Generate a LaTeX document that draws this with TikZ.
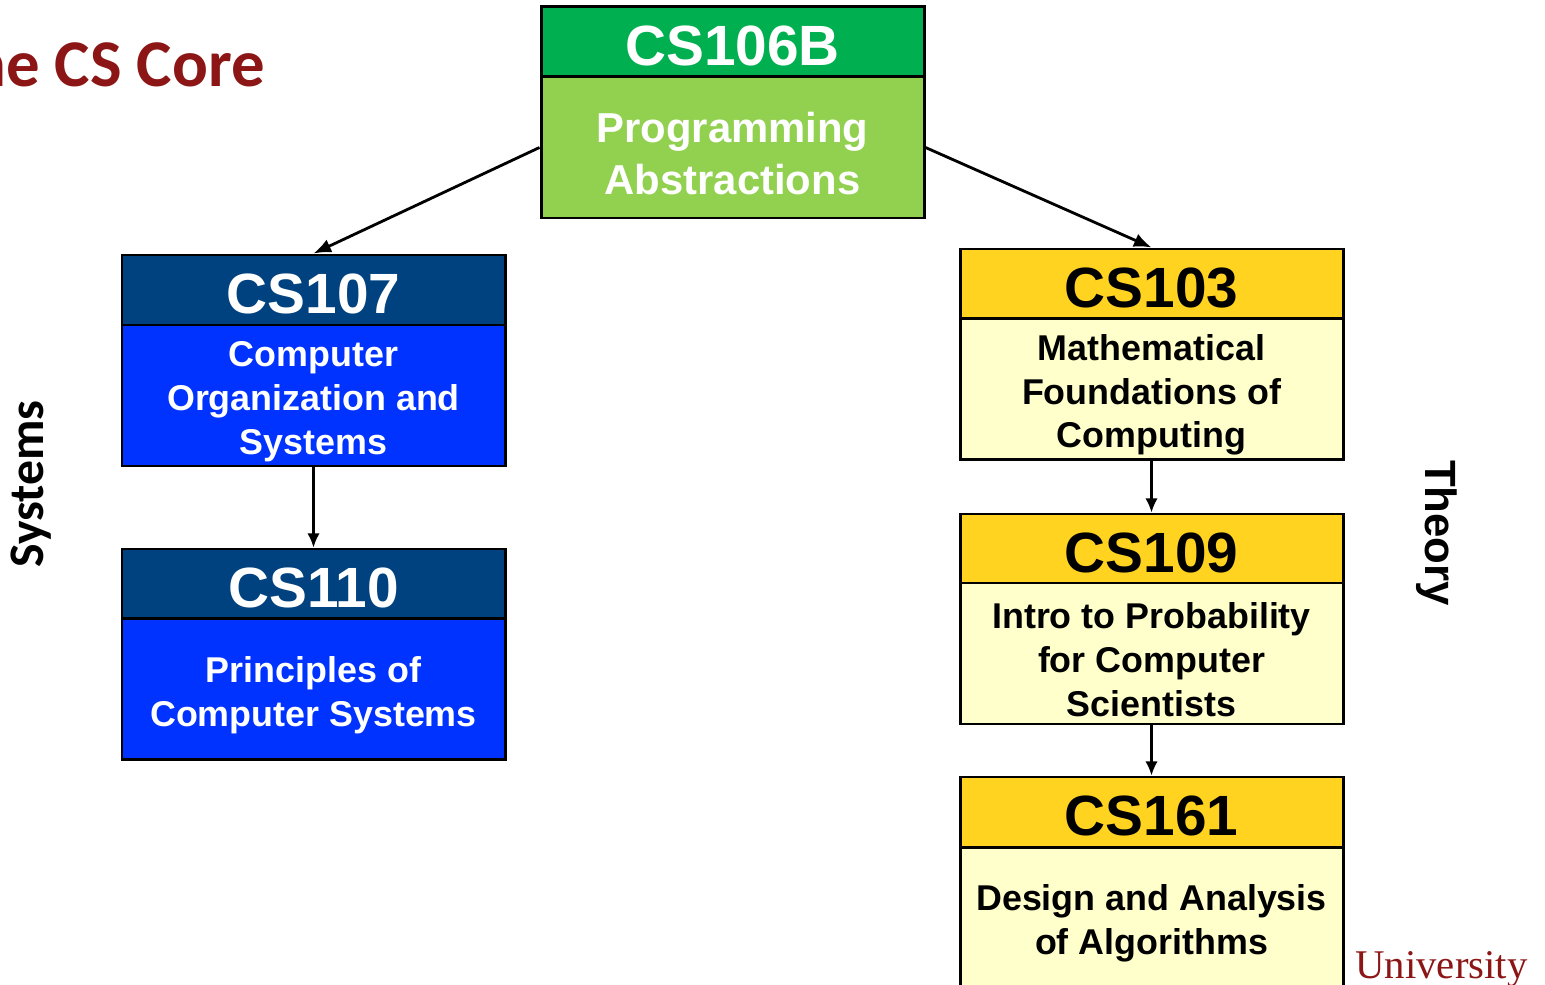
\documentclass[tikz,border=0pt]{standalone}
\usepackage{fontspec}
\setmainfont{Liberation Sans}
\newfontfamily\carfont{Carlito}
\newfontfamily\serfont{Liberation Serif}
\usetikzlibrary{arrows.meta}
\definecolor{cardinal}{HTML}{8C1515}
\definecolor{gdark}{HTML}{00B050}
\definecolor{glight}{HTML}{92D050}
\definecolor{bdark}{HTML}{00427F}
\definecolor{blight}{HTML}{0033FF}
\definecolor{ydark}{HTML}{FFD320}
\definecolor{ylight}{HTML}{FFFFCC}
\tikzset{
  box/.style={draw=black, line width=1.7pt, minimum width=7.66cm, inner sep=0pt},
  hdr/.style={box, minimum height=1.4cm},
  bdy/.style={box, minimum height=2.82cm},
  htxt/.style={align=center, inner sep=0pt, yshift=-0.08cm, font=\bfseries\fontsize{32.3}{38}\selectfont},
  btxt/.style={align=center, inner sep=0pt, yshift=-0.12cm, font=\bfseries\fontsize{20.4}{24.9}\selectfont},
  conn/.style={line width=1.6pt, -{Latex[length=10pt,width=8pt]}},
  vconn/.style={line width=1.2pt, -{Latex[length=8pt,width=7pt]}}
}
\begin{document}
\begin{tikzpicture}
\useasboundingbox (0,0) rectangle (30.9,-19.7);
\clip (0,0) rectangle (30.9,-19.7);
% title
\node[anchor=base east, text=cardinal, font=\carfont\bfseries\fontsize{38}{44}\selectfont, inner sep=0pt] (title) at (5.3,-1.74) {The CS Core};
% CS106B
\node[hdr, fill=gdark] (h106) at (14.65,-0.83) {};
\node[htxt, text=white] (t106) at (h106.center) {CS106B};
\node[bdy, fill=glight] (b106) at (14.65,-2.95) {};
\node[btxt, text=white, font=\bfseries\fontsize{23.8}{29.5}\selectfont] (c106) at (b106.center) {Programming\\Abstractions};
% CS107
\node[hdr, fill=bdark] (h107) at (6.27,-5.8) {};
\node[htxt, text=white] (t107) at (h107.center) {CS107};
\node[bdy, fill=blight] (b107) at (6.27,-7.91) {};
\node[btxt, text=white] (c107) at (b107.center) {Computer\\Organization and\\Systems};
% CS110
\node[hdr, fill=bdark] (h110) at (6.27,-11.68) {};
\node[htxt, text=white] (t110) at (h110.center) {CS110};
\node[bdy, fill=blight] (b110) at (6.27,-13.78) {};
\node[btxt, text=white] (c110) at (b110.center) {Principles of\\Computer Systems};
% CS103
\node[hdr, fill=ydark] (h103) at (23.03,-5.68) {};
\node[htxt, text=black] (t103) at (h103.center) {CS103};
\node[bdy, fill=ylight] (b103) at (23.03,-7.78) {};
\node[btxt, text=black] (c103) at (b103.center) {Mathematical\\Foundations of\\Computing};
% CS109
\node[hdr, fill=ydark] (h109) at (23.03,-10.98) {};
\node[htxt, text=black] (t109) at (h109.center) {CS109};
\node[bdy, fill=ylight] (b109) at (23.03,-13.07) {};
\node[btxt, text=black] (c109) at (b109.center) {Intro to Probability\\for Computer\\Scientists};
% CS161
\node[hdr, fill=ydark] (h161) at (23.03,-16.24) {};
\node[htxt, text=black] (t161) at (h161.center) {CS161};
\node[bdy, fill=ylight] (b161) at (23.03,-18.35) {};
\node[btxt, text=black] (c161) at (b161.center) {Design and Analysis\\of Algorithms};
% side labels
\node[rotate=90, font=\carfont\bfseries\fontsize{28.3}{34}\selectfont, inner sep=0pt] (sys) at (0.62,-9.68) {Systems};
\node[rotate=-90, font=\bfseries\fontsize{24.9}{30}\selectfont, inner sep=0pt] (theo) at (28.74,-10.66) {Theory};
\node[anchor=base west, text=cardinal, font=\serfont\fontsize{23.2}{28}\selectfont, inner sep=0pt] (univ) at (27.1,-19.56) {University};
% connectors
\draw[conn] (b106.west) -- (h107.north);
\draw[conn] (b106.east) -- (h103.north);
\draw[vconn] (b107.south) -- (h110.north);
\draw[vconn] (b103.south) -- (h109.north);
\draw[vconn] (b109.south) -- (h161.north);
\end{tikzpicture}
\end{document}
